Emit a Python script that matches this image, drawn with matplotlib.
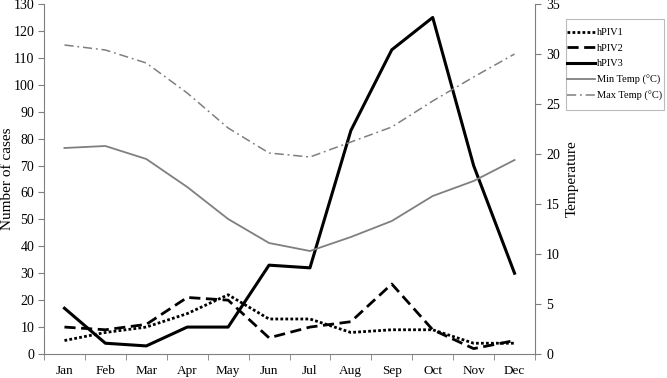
import numpy as np
import matplotlib.pyplot as plt
from matplotlib.patches import Rectangle

months = ['Jan', 'Feb', 'Mar', 'Apr', 'May', 'Jun', 'Jul', 'Aug', 'Sep', 'Oct', 'Nov', 'Dec']
hpiv1 = [5, 8, 10, 15, 22, 13, 13, 8, 9, 9, 4, 4]
hpiv2 = [10, 9, 11, 21, 20, 6, 10, 12, 26, 9, 2, 5]
hpiv3 = [17, 4, 3, 10, 10, 33, 32, 83, 113, 125, 70, 30]
min_temp = [20.6, 20.8, 19.5, 16.7, 13.5, 11.1, 10.3, 11.7, 13.3, 15.8, 17.3, 19.4]
max_temp = [30.9, 30.4, 29.1, 26.1, 22.6, 20.1, 19.7, 21.2, 22.7, 25.3, 27.7, 30.0]

plt.rcParams['font.family'] = ['Liberation Serif', 'DejaVu Serif']
plt.rcParams['font.size'] = 9.5

fig = plt.figure(figsize=(6.67, 3.78), dpi=100)
W, H = 667, 378
ax = fig.add_axes([44 / W, 1 - 354 / H, (535 - 44) / W, (354 - 4) / H])
ax2 = ax.twinx()

x = np.arange(len(months))
gray = '#7f7f7f'

l1, = ax.plot(x, hpiv1, color='black', lw=2, linestyle=(0, (1, 0.8)), label='hPIV1')
l2, = ax.plot(x, hpiv2, color='black', lw=2, linestyle=(0, (4, 2)), label='hPIV2')
l3, = ax.plot(x, hpiv3, color='black', lw=2.2, label='hPIV3')
l4, = ax2.plot(x, min_temp, color=gray, lw=1.3, label='Min Temp (°C)')
l5, = ax2.plot(x, max_temp, color=gray, lw=1.1, linestyle=(0, (6, 2.5, 1.2, 2.5)), label='Max Temp (°C)')

ax.set_xlim(-0.5, 11.5)
ax.set_ylim(0, 130)
ax.set_yticks(np.arange(0, 131, 10))
ax2.set_ylim(0, 35)
ax2.set_yticks(np.arange(0, 36, 5))

ax.set_xticks(x)
ax.set_xticklabels(months)
ax.set_xticks(np.arange(-0.5, 12, 1), minor=True)
ax.tick_params(axis='x', which='major', length=0, pad=8)
ax.tick_params(axis='x', which='minor', length=4, color=gray)
ax.tick_params(axis='y', length=4, color=gray, pad=3, labelsize=10)
ax2.tick_params(axis='y', length=4, color=gray, pad=4, labelsize=10)

for a in (ax, ax2):
    a.spines['top'].set_visible(False)
    for s in ('left', 'right', 'bottom'):
        a.spines[s].set_color(gray)
        a.spines[s].set_linewidth(0.8)
ax.spines['right'].set_visible(False)
ax2.spines['left'].set_visible(False)
ax2.spines['bottom'].set_visible(False)

ax.set_ylabel('Number of cases', fontsize=11)
ax.yaxis.set_label_coords(-0.061, 0.5)
ax2.set_ylabel('Temperature', fontsize=11, rotation=90)
ax2.yaxis.set_label_coords(1.063, 0.5)

leg = fig.legend(handles=[l1, l2, l3, l4, l5], loc='upper left',
                 bbox_to_anchor=(564 / W, 1 - 25 / H), borderaxespad=0,
                 fontsize=7.5, frameon=False, handlelength=2.7,
                 handletextpad=0.15, borderpad=0.3, labelspacing=0.6)
fig.patches.append(Rectangle((566 / W, 1 - 110 / H), 98 / W, 91 / H,
                             transform=fig.transFigure, fill=False,
                             edgecolor='#bbbbbb', lw=0.8))

fig.savefig('out.png', dpi=100)
